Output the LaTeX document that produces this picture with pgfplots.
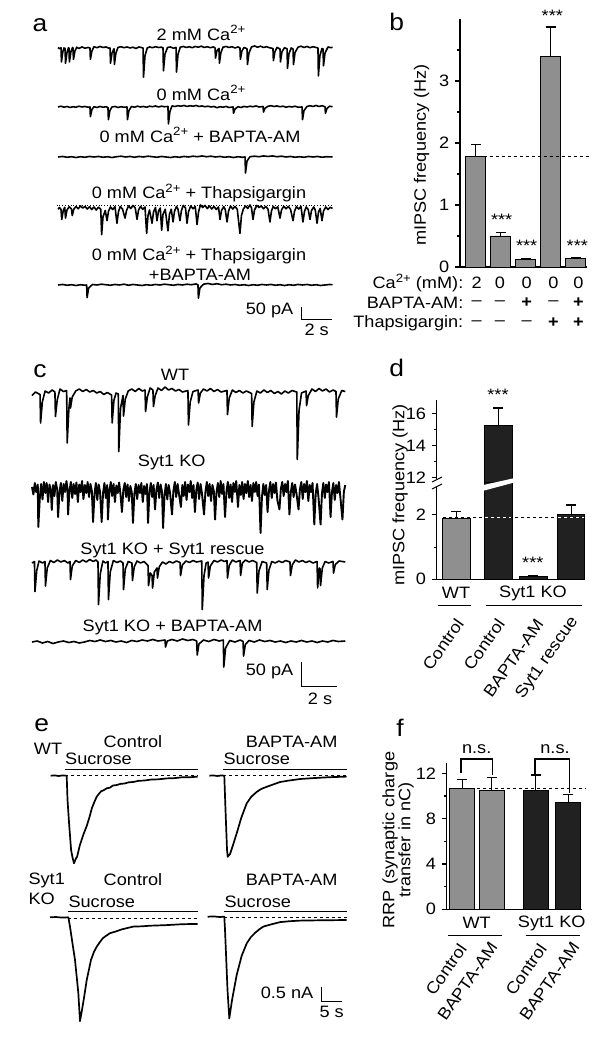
\documentclass[border=0pt]{standalone}
\usepackage{fontspec}
\setmainfont{Liberation Sans}[FakeStretch=1.1]
\usepackage{pgfplots}
\pgfplotsset{compat=1.18}
\definecolor{bargray}{gray}{0.56}
\definecolor{barblack}{gray}{0.13}
\newcommand{\sups}[1]{\raisebox{0.42em}{\fontsize{12}{12}\selectfont #1}}
\pgfplotsset{
 trace/.style={hide axis, scale only axis, anchor=south west, clip=false, xmin=0},
 tr/.style={black, line width=1.6pt, line join=round, mark=none},
 barax/.style={scale only axis, anchor=south west, axis x line*=bottom, axis y line*=left,
   axis line style={line width=1.1pt,-}, xtick=\empty, tick align=outside,
   major tick length=5pt, minor tick length=3pt, tick style={line width=1.1pt,black},
   /pgf/number format/assume math mode=true, clip=false},
 errs/.style={error bars/.cd, y dir=plus, y explicit, error mark=|,
   error bar style={line width=1.2pt,black}, error mark options={mark size=5pt,line width=1.2pt,black}},
}
\begin{document}
\fontsize{16.5}{19}\selectfont
\begin{tikzpicture}
\useasboundingbox (0,0) rectangle (610pt,-1048pt);
% ---------------- panel a ----------------
\node[font=\fontsize{24}{24}\selectfont] at (40pt,-25pt) {a};
\node at (201pt,-33pt) {2 mM Ca\sups{2+}};
\node at (201pt,-93pt) {0 mM Ca\sups{2+}};
\node at (200pt,-135pt) {0 mM Ca\sups{2+} + BAPTA-AM};
\node at (199pt,-193pt) {0 mM Ca\sups{2+} + Thapsigargin};
\node at (199pt,-255pt) {0 mM Ca\sups{2+} + Thapsigargin};
\node at (200pt,-275pt) {+BAPTA-AM};
\begin{axis}[trace, at={(58pt,-81pt)}, x=15pt, y=0.254pt, xmax=18.4, ymin=-130, ymax=30]
\addplot[tr] coordinates {(0,2) (0.1,-3) (0.2,1) (0.23,-55) (0.32,-15) (0.4,0) (0.47,-2) (0.5,-60) (0.6,-18) (0.7,1) (0.73,-1) (0.76,-55) (0.86,-15) (0.97,2) (1.0,0) (1.03,-45) (1.13,-12) (1.25,3) (1.4,-2) (1.6,4) (1.8,-1) (2.0,2) (2.13,0) (2.16,-45) (2.26,-12) (2.4,5) (2.6,1) (2.8,6) (3.0,2) (3.2,4) (3.4,-1) (3.47,0) (3.5,-60) (3.6,-20) (3.73,-3) (3.76,-65) (3.86,-20) (4.0,2) (4.2,5) (4.4,1) (4.6,4) (4.8,0) (5.0,3) (5.2,-2) (5.4,4) (5.6,1) (5.67,0) (5.7,-115) (5.8,-30) (5.95,0) (6.1,4) (6.3,1) (6.5,5) (6.7,2) (6.9,3) (7.0,1) (7.03,-90) (7.13,-25) (7.3,2) (7.5,4) (7.7,-1) (7.87,2) (7.9,-95) (8.0,-25) (8.15,3) (8.35,6) (8.55,2) (8.75,5) (8.95,1) (9.15,6) (9.35,3) (9.55,7) (9.75,2) (9.95,5) (10.15,1) (10.35,4) (10.47,0) (10.5,-40) (10.6,-10) (10.73,-2) (10.76,-60) (10.86,-18) (11.0,3) (11.2,6) (11.4,2) (11.6,5) (11.8,0) (12.0,4) (12.13,0) (12.16,-45) (12.26,-12) (12.4,2) (12.6,-3) (12.63,-65) (12.73,-20) (12.9,4) (13.1,8) (13.3,3) (13.5,7) (13.7,2) (13.9,5) (14.1,1) (14.33,-2) (14.36,-50) (14.46,-15) (14.6,2) (14.8,-4) (14.83,-55) (14.93,-15) (15.1,1) (15.27,-3) (15.3,-80) (15.4,-22) (15.55,0) (15.67,-4) (15.7,-65) (15.8,-18) (16.0,3) (16.2,7) (16.4,2) (16.6,6) (16.8,1) (17.0,5) (17.2,2) (17.33,0) (17.36,-110) (17.46,-30) (17.6,-2) (17.67,-4) (17.7,-70) (17.8,-20) (18.0,4) (18.2,1) (18.3,3)};
\end{axis}
\begin{axis}[trace, at={(58pt,-140pt)}, x=15pt, y=0.254pt, xmax=18.4, ymin=-130, ymax=30]
\addplot[tr] coordinates {(0,0) (0.2,3) (0.4,-1) (0.6,2) (0.8,-2) (1.0,1) (1.2,-1) (1.4,3) (1.6,0) (1.8,2) (2.0,-1) (2.13,0) (2.16,-38) (2.26,-10) (2.4,1) (2.6,-2) (2.8,2) (3.0,-1) (3.2,1) (3.33,-2) (3.36,-50) (3.46,-14) (3.6,0) (3.8,2) (4.0,-2) (4.2,1) (4.4,-1) (4.6,0) (4.63,-50) (4.73,-14) (4.9,2) (5.1,-1) (5.3,3) (5.5,0) (5.7,2) (5.9,-1) (6.1,3) (6.3,1) (6.5,4) (6.7,0) (6.9,3) (7.1,1) (7.33,2) (7.36,-67) (7.46,-18) (7.6,4) (7.8,2) (8.0,5) (8.2,3) (8.4,6) (8.6,2) (8.8,5) (9.0,3) (9.2,6) (9.4,2) (9.6,4) (9.8,1) (10.0,3) (10.2,0) (10.4,2) (10.6,-3) (10.8,1) (11.0,-1) (11.2,2) (11.4,-2) (11.67,0) (11.7,-25) (11.8,-8) (12.0,1) (12.2,-2) (12.4,2) (12.6,0) (12.8,3) (13.0,1) (13.2,4) (13.4,0) (13.67,2) (13.7,-20) (13.8,-5) (14.0,3) (14.2,5) (14.4,2) (14.6,4) (14.8,1) (15.0,3) (15.2,-1) (15.4,2) (15.6,0) (15.8,3) (16.0,-1) (16.27,0) (16.3,-50) (16.4,-14) (16.6,2) (16.8,5) (17.0,2) (17.2,6) (17.4,2) (17.6,5) (17.8,1) (17.83,-25) (17.93,-6) (18.1,3) (18.3,1)};
\end{axis}
\begin{axis}[trace, at={(58pt,-190pt)}, x=15pt, y=0.254pt, xmax=18.4, ymin=-130, ymax=30]
\addplot[tr] coordinates {(0,0) (0.3,2) (0.6,-1) (0.9,1) (1.2,-2) (1.5,1) (1.8,-1) (2.1,2) (2.4,0) (2.7,2) (3.0,-1) (3.3,1) (3.6,-2) (3.9,1) (4.2,3) (4.5,0) (4.8,2) (5.1,-1) (5.4,2) (5.7,0) (6.0,3) (6.3,1) (6.6,-1) (6.9,2) (7.2,0) (7.5,-2) (7.8,1) (8.1,-1) (8.4,2) (8.7,0) (9.0,3) (9.3,1) (9.6,4) (9.9,1) (10.2,3) (10.5,0) (10.8,2) (11.1,-1) (11.4,1) (11.7,-2) (12.0,1) (12.3,-1) (12.47,0) (12.5,-63) (12.6,-16) (12.8,1) (13.1,3) (13.4,1) (13.7,4) (14.0,2) (14.3,4) (14.6,1) (14.9,3) (15.2,0) (15.5,2) (15.8,-1) (16.1,1) (16.4,-1) (16.7,2) (17.0,0) (17.3,2) (17.6,-1) (17.9,1) (18.3,0)};
\end{axis}
\begin{axis}[trace, at={(58pt,-241pt)}, x=15pt, y=0.254pt, xmax=18.4, ymin=-130, ymax=30]
\addplot[black, dotted, line width=0.8pt] coordinates {(-0.1,11) (18.3,11)};
\addplot[tr] coordinates {(0,-5) (0.1,2) (0.2,-6) (0.25,-45) (0.35,-10) (0.45,3) (0.5,-40) (0.6,-8) (0.75,5) (0.9,-4) (0.95,-30) (1.05,-5) (1.2,6) (1.35,-3) (1.5,8) (1.65,0) (1.8,6) (1.95,-4) (2.1,5) (2.25,-6) (2.4,4) (2.55,-8) (2.7,3) (2.85,-5) (2.91,-105) (3.0,-35) (3.15,-10) (3.27,-50) (3.37,-12) (3.5,4) (3.65,-6) (3.8,5) (3.93,-60) (4.03,-15) (4.15,6) (4.3,-4) (4.47,-40) (4.57,-10) (4.7,8) (4.85,-2) (5.0,10) (5.15,0) (5.27,-45) (5.37,-8) (5.5,6) (5.65,-5) (5.8,4) (5.91,-100) (6.0,-30) (6.1,-8) (6.27,-60) (6.37,-15) (6.5,2) (6.6,-50) (6.7,-12) (6.82,0) (6.91,-88) (7.0,-25) (7.15,-5) (7.33,-90) (7.43,-25) (7.55,-5) (7.67,-55) (7.77,-12) (7.9,6) (8.0,-5) (8.13,-50) (8.23,-10) (8.35,10) (8.5,0) (8.6,-60) (8.7,-15) (8.85,8) (9.0,-3) (9.15,6) (9.27,-65) (9.37,-15) (9.5,12) (9.65,2) (9.8,10) (9.95,-2) (10.1,8) (10.25,-4) (10.4,6) (10.55,-6) (10.7,4) (10.8,-45) (10.9,-10) (11.05,5) (11.15,-6) (11.27,-55) (11.37,-12) (11.5,8) (11.65,-4) (11.8,6) (11.95,-5) (12.13,-100) (12.23,-30) (12.35,-5) (12.5,8) (12.65,-2) (12.8,12) (12.9,0) (13.0,-45) (13.1,-8) (13.25,10) (13.4,2) (13.55,8) (13.7,-3) (13.85,6) (14.0,-4) (14.13,-55) (14.23,-12) (14.35,6) (14.5,-3) (14.65,5) (14.8,-40) (14.9,-8) (15.05,7) (15.2,-3) (15.35,6) (15.5,-5) (15.67,-50) (15.77,-12) (15.9,5) (16.05,-4) (16.2,6) (16.33,-55) (16.43,-14) (16.55,4) (16.68,-6) (16.8,-45) (16.9,-10) (17.05,4) (17.15,-8) (17.27,-60) (17.37,-15) (17.48,-2) (17.6,-50) (17.7,-12) (17.85,4) (18.0,-6) (18.15,3) (18.3,-2)};
\end{axis}
\begin{axis}[trace, at={(58pt,-318pt)}, x=15pt, y=0.254pt, xmax=18.4, ymin=-130, ymax=30]
\addplot[tr] coordinates {(0,0) (0.3,2) (0.6,-1) (0.9,1) (1.2,-2) (1.5,1) (1.8,-1) (1.91,0) (1.94,-50) (2.04,-12) (2.3,2) (2.6,0) (2.9,3) (3.2,1) (3.5,-1) (3.8,2) (4.1,0) (4.4,3) (4.7,-1) (5.0,2) (5.3,0) (5.6,-2) (5.9,1) (6.2,-1) (6.5,2) (6.8,0) (7.1,3) (7.4,1) (7.7,-1) (8.0,2) (8.3,0) (8.6,3) (8.9,1) (9.2,4) (9.33,1) (9.36,-52) (9.46,-12) (9.7,3) (10.0,6) (10.3,2) (10.6,5) (10.9,1) (11.2,3) (11.5,0) (11.8,2) (12.1,-1) (12.4,1) (12.7,-2) (13.0,1) (13.3,-1) (13.6,2) (13.9,0) (14.2,2) (14.5,-1) (14.8,1) (15.1,-2) (15.4,1) (15.7,-1) (16.0,2) (16.3,0) (16.6,2) (16.9,-1) (17.2,1) (17.5,-2) (17.8,0) (18.1,2) (18.3,1)};
\end{axis}
\draw[line width=1.1pt] (301.7pt,-306.7pt) -- (301.7pt,-319.3pt) -- (331.7pt,-319.3pt);
\node[anchor=east] at (299pt,-310pt) {50 pA};
\node at (316.7pt,-330pt) {2 s};
% ---------------- panel b ----------------
\node[font=\fontsize{24}{24}\selectfont] at (396.7pt,-22pt) {b};
\begin{axis}[barax, at={(460pt,-267pt)}, x=25pt, y=62pt, xmin=-0.63, xmax=4.45, ymin=0, ymax=4,
  ytick={0,1,2,3}, minor ytick={0.5,1.5,2.5,3.5}]
\addplot[ybar, bar width=20pt, bar shift=0pt, fill=bargray, draw=black, line width=0.9pt, errs]
 table[x=x, y=y, y error=e] {
x y e
0 1.78 0.19
1 0.50 0.05
2 0.12 0.01
3 3.40 0.47
4 0.13 0.025
};
\addplot[black, dashed, line width=1pt] coordinates {(-0.4,1.785) (4.55,1.785)};
\end{axis}
\node[rotate=90] at (421.7pt,-155pt) {mIPSC frequency (Hz)};
\node at (501.7pt,-220pt) {***};
\node at (526.7pt,-246pt) {***};
\node at (552.3pt,-16pt) {***};
\node at (577.3pt,-246pt) {***};
\node[anchor=east] at (469pt,-283pt) {Ca\sups{2+} (mM):};
\node[anchor=east] at (469pt,-303pt) {BAPTA-AM:};
\node[anchor=east] at (469pt,-323pt) {Thapsigargin:};
\node at (476.7pt,-283pt) {2};
\node at (500pt,-283pt) {0};
\node at (526.7pt,-283pt) {0};
\node at (553.3pt,-283pt) {0};
\node at (578.3pt,-283pt) {0};
\node at (476.7pt,-303pt) {--};
\node at (500pt,-303pt) {--};
\node at (526.7pt,-303pt) {\textbf{+}};
\node at (553.3pt,-303pt) {--};
\node at (578.3pt,-303pt) {\textbf{+}};
\node at (476.7pt,-323pt) {--};
\node at (500pt,-323pt) {--};
\node at (526.7pt,-323pt) {--};
\node at (553.3pt,-323pt) {\textbf{+}};
\node at (578.3pt,-323pt) {\textbf{+}};
% ---------------- panel c ----------------
\node[font=\fontsize{24}{24}\selectfont] at (40pt,-371pt) {c};
\node at (175pt,-375pt) {WT};
\node at (171.7pt,-462pt) {Syt1 KO};
\node at (172.5pt,-550pt) {Syt1 KO + Syt1 rescue};
\node at (172.5pt,-627pt) {Syt1 KO + BAPTA-AM};
\begin{axis}[trace, at={(32pt,-468pt)}, x=17.5pt, y=0.5pt, xmax=18, ymin=-150, ymax=30]
\addplot[tr] coordinates {(0,-5) (0.2,2) (0.4,-2) (0.46,-3) (0.49,-60) (0.59,-18) (0.75,4) (0.95,0) (1.15,6) (1.31,2) (1.34,-47) (1.44,-14) (1.6,8) (1.8,3) (1.98,5) (2.01,-100) (2.11,-30) (2.17,-10) (2.2,-30) (2.3,-8) (2.5,4) (2.7,8) (2.9,3) (3.1,7) (3.3,2) (3.5,5) (3.7,0) (3.9,3) (4.1,-3) (4.3,1) (4.55,-4) (4.58,-60) (4.68,-15) (4.8,0) (4.93,-2) (4.96,-117) (5.06,-30) (5.2,-5) (5.23,-46) (5.33,-12) (5.5,4) (5.7,8) (5.9,3) (6.1,9) (6.3,4) (6.46,6) (6.49,-37) (6.59,-8) (6.75,10) (6.91,6) (6.94,-27) (7.04,-5) (7.2,10) (7.4,5) (7.6,12) (7.8,6) (8.0,9) (8.2,4) (8.4,7) (8.6,2) (8.91,5) (8.94,-64) (9.04,-18) (9.2,3) (9.49,6) (9.52,-20) (9.62,0) (9.8,8) (10.0,4) (10.2,9) (10.4,3) (10.6,7) (10.8,2) (11.14,5) (11.17,-43) (11.27,-10) (11.45,6) (11.65,1) (11.85,5) (12.05,0) (12.25,4) (12.55,-1) (12.58,-67) (12.68,-18) (12.85,4) (13.05,0) (13.25,6) (13.45,1) (13.65,5) (13.85,-1) (14.05,3) (14.25,-2) (14.45,4) (14.65,0) (14.85,5) (15.13,2) (15.16,-133) (15.26,-35) (15.4,0) (15.66,4) (15.69,-25) (15.79,-5) (16.0,8) (16.2,3) (16.4,9) (16.6,4) (16.8,8) (17.0,2) (17.2,6) (17.37,3) (17.4,-48) (17.5,-12) (17.7,5) (17.9,3)};
\end{axis}
\begin{axis}[trace, at={(32pt,-562pt)}, x=17.5pt, y=0.5pt, xmax=18, ymin=-150, ymax=30]
\addplot[tr, line width=1.9pt] coordinates {(0,0) (0.08,-15) (0.16,8) (0.24,-10) (0.33,5) (0.36,-80) (0.45,-20) (0.52,6) (0.6,-25) (0.68,10) (0.76,-12) (0.84,8) (0.92,-30) (1.0,5) (1.08,-8) (1.13,-46) (1.2,4) (1.28,-18) (1.36,10) (1.44,-5) (1.49,-60) (1.57,-10) (1.65,8) (1.73,-28) (1.81,6) (1.89,-10) (1.97,12) (2.03,-5) (2.06,-55) (2.14,-8) (2.22,10) (2.3,-22) (2.38,6) (2.46,-14) (2.54,9) (2.62,-30) (2.7,5) (2.78,-10) (2.86,12) (2.94,-24) (3.02,4) (3.1,-12) (3.18,10) (3.26,-20) (3.34,6) (3.42,-8) (3.49,-70) (3.57,-15) (3.65,8) (3.73,-26) (3.81,5) (3.89,-10) (3.98,-70) (4.06,-12) (4.14,8) (4.22,-22) (4.3,4) (4.34,-65) (4.42,-10) (4.5,10) (4.58,-18) (4.66,6) (4.74,-30) (4.82,3) (4.9,-12) (4.98,9) (5.06,-16) (5.14,-50) (5.22,-6) (5.3,8) (5.38,-20) (5.46,5) (5.54,-28) (5.62,2) (5.7,-10) (5.77,-72) (5.85,-14) (5.93,6) (6.01,-24) (6.09,4) (6.17,-12) (6.25,8) (6.33,-30) (6.41,2) (6.49,-14) (6.57,6) (6.63,-72) (6.71,-12) (6.79,8) (6.87,-20) (6.95,4) (7.03,-45) (7.11,-6) (7.19,9) (7.27,-22) (7.35,5) (7.43,-10) (7.49,-82) (7.57,-18) (7.65,6) (7.73,-25) (7.81,4) (7.89,-12) (8.0,-55) (8.08,-8) (8.16,10) (8.24,-20) (8.32,6) (8.4,-14) (8.51,-40) (8.59,4) (8.67,-18) (8.75,10) (8.83,-26) (8.91,5) (8.99,-10) (9.07,12) (9.15,-22) (9.23,4) (9.31,-50) (9.39,-6) (9.47,9) (9.55,-24) (9.63,6) (9.71,-12) (9.83,-55) (9.91,-10) (9.99,10) (10.07,-18) (10.15,6) (10.23,-28) (10.31,4) (10.39,-8) (10.46,-65) (10.54,-12) (10.62,8) (10.7,-20) (10.78,12) (10.86,-14) (10.94,6) (11.03,-60) (11.11,-10) (11.19,10) (11.27,-22) (11.35,5) (11.43,-30) (11.51,8) (11.59,-10) (11.67,12) (11.77,-40) (11.85,4) (11.93,-16) (12.01,10) (12.09,-24) (12.17,6) (12.25,-12) (12.33,12) (12.41,-20) (12.49,4) (12.57,-28) (12.65,8) (12.73,-10) (12.81,10) (12.89,-18) (12.97,5) (13.06,-92) (13.14,-20) (13.22,6) (13.3,-16) (13.38,4) (13.46,-50) (13.54,-8) (13.62,10) (13.7,-22) (13.78,6) (13.86,-12) (13.94,9) (14.02,-26) (14.14,-45) (14.22,-4) (14.3,10) (14.38,-18) (14.46,6) (14.54,-10) (14.62,12) (14.71,-55) (14.79,-10) (14.87,8) (14.95,-20) (15.03,5) (15.11,-12) (15.23,-45) (15.31,-4) (15.39,10) (15.47,-24) (15.55,6) (15.63,-10) (15.71,12) (15.79,-28) (15.87,4) (15.95,-10) (16.03,8) (16.13,-75) (16.21,-14) (16.29,6) (16.37,-20) (16.49,-75) (16.57,-12) (16.65,8) (16.73,-22) (16.81,5) (16.89,-10) (16.97,10) (17.06,-60) (17.14,-10) (17.22,8) (17.3,-26) (17.38,4) (17.46,-12) (17.54,10) (17.62,-20) (17.74,-65) (17.82,-10) (17.9,4)};
\end{axis}
\begin{axis}[trace, at={(32pt,-638pt)}, x=17.5pt, y=0.5pt, xmax=18, ymin=-150, ymax=30]
\addplot[tr] coordinates {(0,0) (0.14,3) (0.17,-57) (0.27,-15) (0.4,4) (0.6,0) (0.74,3) (0.77,-46) (0.87,-10) (1.05,5) (1.25,1) (1.45,6) (1.65,2) (1.85,5) (2.05,0) (2.17,3) (2.2,-33) (2.3,-6) (2.5,5) (2.7,1) (2.9,6) (3.1,2) (3.3,7) (3.5,3) (3.65,6) (3.77,2) (3.8,-83) (3.9,-22) (4.05,4) (4.2,0) (4.34,3) (4.37,-73) (4.47,-18) (4.65,5) (4.85,1) (5.05,4) (5.2,0) (5.23,-53) (5.33,-12) (5.5,3) (5.71,0) (5.74,-35) (5.84,-8) (6.0,4) (6.2,0) (6.4,3) (6.63,-5) (6.66,-45) (6.76,-20) (6.86,-25) (6.89,-50) (6.99,-18) (7.14,-10) (7.17,-30) (7.27,-8) (7.45,2) (7.65,-2) (7.85,3) (8.05,0) (8.25,4) (8.46,1) (8.49,-25) (8.59,-4) (8.8,4) (9.0,1) (9.2,5) (9.4,2) (9.7,4) (9.73,-93) (9.83,-25) (9.95,0) (10.06,2) (10.09,-30) (10.19,-6) (10.4,5) (10.6,2) (10.8,6) (11.0,3) (11.14,5) (11.17,-30) (11.27,-5) (11.45,6) (11.65,2) (11.89,5) (11.92,-25) (12.02,0) (12.2,6) (12.4,2) (12.6,5) (12.84,1) (12.87,-60) (12.97,-16) (13.15,3) (13.41,0) (13.44,-53) (13.54,-14) (13.7,3) (13.9,0) (14.1,4) (14.3,1) (14.5,5) (14.74,2) (14.77,-25) (14.87,-4) (15.05,6) (15.25,2) (15.45,5) (15.65,1) (15.85,4) (16.05,0) (16.29,3) (16.32,-50) (16.42,-10) (16.46,-12) (16.49,-45) (16.59,-10) (16.75,3) (16.95,0) (17.2,3) (17.23,-20) (17.33,-3) (17.55,4) (17.9,2)};
\end{axis}
\begin{axis}[trace, at={(32pt,-717pt)}, x=17.5pt, y=0.5pt, xmax=18, ymin=-150, ymax=30]
\addplot[tr] coordinates {(0,0) (0.3,2) (0.6,-2) (0.9,1) (1.2,-3) (1.5,0) (1.8,2) (2.1,-1) (2.4,1) (2.7,-2) (3.0,0) (3.3,3) (3.6,1) (3.9,4) (4.2,1) (4.5,3) (4.8,0) (5.1,2) (5.4,-1) (5.7,3) (6.0,1) (6.3,4) (6.6,2) (6.9,5) (7.2,2) (7.6,4) (7.63,-10) (7.73,2) (8.0,5) (8.3,2) (8.6,6) (8.9,3) (9.2,5) (9.41,2) (9.44,-26) (9.54,-4) (9.8,4) (10.1,1) (10.4,5) (10.7,2) (10.93,4) (10.96,-50) (11.06,-12) (11.3,3) (11.6,0) (11.9,4) (12.06,1) (12.09,-28) (12.19,-5) (12.4,3) (12.7,0) (13.0,4) (13.3,1) (13.6,3) (13.9,0) (14.2,2) (14.5,-1) (14.8,2) (15.1,0) (15.4,3) (15.7,0) (16.0,2) (16.3,-1) (16.6,2) (16.9,0) (17.2,3) (17.5,1) (17.9,2)};
\end{axis}
\draw[line width=1.1pt] (301.7pt,-661.7pt) -- (301.7pt,-686.7pt) -- (336.7pt,-686.7pt);
\node[anchor=east] at (299pt,-671.7pt) {50 pA};
\node at (320pt,-699pt) {2 s};
% ---------------- panel d ----------------
\node[font=\fontsize{24}{24}\selectfont] at (396.7pt,-368pt) {d};
\begin{axis}[barax, at={(436.7pt,-579.3pt)}, x=35pt, y=32.2pt, xmin=-0.56, xmax=3.68, ymin=0, ymax=3,
  ytick={0,2}, minor ytick={1}, clip=true]
\addplot[ybar, bar width=27.3pt, bar shift=0pt, fill=bargray, draw=black, line width=0.9pt, errs]
 table[x=x, y=y, y error=e] {
x y e
0 1.90 0.20
};
\addplot[ybar, bar width=27.3pt, bar shift=0pt, fill=barblack, draw=black, line width=0.9pt, errs]
 table[x=x, y=y, y error=e] {
x y e
1.2 15.3 0
2.2 0.09 0.03
3.28 2.02 0.29
};
\addplot[black, dashed, line width=1pt] coordinates {(-0.38,1.92) (3.68,1.92)};
\addplot[white, dashed, line width=1pt] coordinates {(0.83,1.92) (1.57,1.92)};
\addplot[white, dashed, line width=1pt] coordinates {(2.91,1.92) (3.65,1.92)};
\end{axis}
\begin{axis}[barax, axis x line=none, at={(436.7pt,-482.7pt)}, x=35pt, y=16pt, xmin=-0.56, xmax=3.68, ymin=11.7, ymax=16.9,
  ytick={12,14,16}, minor ytick={13,15}]
\addplot[ybar, bar width=27.3pt, bar shift=0pt, fill=barblack, draw=black, line width=0.9pt, errs]
 table[x=x, y=y, y error=e] {
x y e
1.2 15.3 1.07
};
\end{axis}
\fill[white] (483.5pt,-485pt) -- (513.5pt,-478.3pt) -- (513.5pt,-482.7pt) -- (483.5pt,-490.7pt) -- cycle;
\fill[white] (434pt,-479pt) rectangle (440pt,-487pt);
\draw[line width=1pt] (432pt,-482pt) -- (442pt,-477pt);
\draw[line width=1pt] (432pt,-489pt) -- (442pt,-484pt);
\node[rotate=90] at (400pt,-495pt) {mIPSC frequency (Hz)};
\node at (498pt,-395pt) {***};
\node at (532.8pt,-563pt) {***};
\node at (456pt,-593pt) {WT};
\node at (533pt,-593pt) {Syt1 KO};
\draw[line width=1pt] (438pt,-605pt) -- (471pt,-605pt);
\draw[line width=1pt] (486pt,-605pt) -- (582pt,-605pt);
\node[rotate=55, anchor=east] at (463pt,-616pt) {Control};
\node[rotate=55, anchor=east] at (504pt,-616pt) {Control};
\node[rotate=55, anchor=east] at (543pt,-616pt) {BAPTA-AM};
\node[rotate=55, anchor=east] at (578pt,-614pt) {Syt1 rescue};
% ---------------- panel e ----------------
\node[font=\fontsize{24}{24}\selectfont] at (41.7pt,-725pt) {e};
\node at (48pt,-749pt) {WT};
\node at (133pt,-742pt) {Control};
\node at (291.7pt,-742pt) {BAPTA-AM};
\node[anchor=west, inner sep=0pt] at (65pt,-759pt) {Sucrose};
\node[anchor=west, inner sep=0pt] at (223.3pt,-759pt) {Sucrose};
\draw[line width=1.1pt] (65pt,-769.3pt) -- (197.7pt,-769.3pt);
\draw[line width=1.1pt] (223.3pt,-769.3pt) -- (346.7pt,-769.3pt);
\node at (46.7pt,-880pt) {Syt1};
\node at (41.7pt,-899pt) {KO};
\node at (133pt,-880pt) {Control};
\node at (291.7pt,-880pt) {BAPTA-AM};
\node[anchor=west, inner sep=0pt] at (68.3pt,-901.7pt) {Sucrose};
\node[anchor=west, inner sep=0pt] at (224.3pt,-901.7pt) {Sucrose};
\draw[line width=1.1pt] (68.3pt,-911.7pt) -- (197.7pt,-911.7pt);
\draw[line width=1.1pt] (224.3pt,-911.7pt) -- (346.7pt,-911.7pt);
\begin{axis}[trace, at={(50.7pt,-883.7pt)}, x=4pt, y=30pt, xmax=37, ymin=-3.6, ymax=0.3]
\addplot[black, dashed, line width=0.9pt] coordinates {(3.6,0.02) (36.75,0.02)};
\addplot[tr, line width=1.7pt] coordinates {(0,0) (1,0.01) (2,-0.01) (3,0.01) (4,0) (4.2,-0.8) (4.6,-1.6) (5.1,-2.48) (5.5,-2.75) (5.83,-2.92) (6.3,-2.76) (6.6,-2.7) (7.3,-2.31) (8.2,-1.95) (9,-1.68) (9.7,-1.38) (10.3,-1.08) (10.9,-0.88) (11.5,-0.70) (12.2,-0.58) (12.6,-0.52) (13.3,-0.48) (14,-0.42) (14.8,-0.40) (15.5,-0.33) (16.5,-0.31) (17.5,-0.27) (18.5,-0.26) (19.5,-0.22) (20.6,-0.21) (22,-0.17) (23.5,-0.16) (25,-0.13) (27,-0.12) (29,-0.09) (31,-0.08) (33,-0.05) (35,-0.05) (36.75,-0.03)};
\end{axis}
\begin{axis}[trace, at={(209.3pt,-883.7pt)}, x=4pt, y=30pt, xmax=37, ymin=-3.6, ymax=0.3]
\addplot[black, dashed, line width=0.9pt] coordinates {(3.5,0.0) (34.35,0.0)};
\addplot[tr, line width=1.7pt] coordinates {(0,0) (1,0.01) (2,-0.01) (3,0.01) (3.75,0) (4.05,-1.14) (4.43,-2.47) (4.6,-2.70) (5.18,-2.61) (5.93,-2.31) (6.85,-1.92) (8,-1.4) (9.35,-0.92) (10.5,-0.70) (11.85,-0.54) (13,-0.44) (14.35,-0.37) (16,-0.29) (17.7,-0.21) (20,-0.16) (22.7,-0.11) (26,-0.08) (30,-0.05) (34.35,-0.03)};
\end{axis}
\begin{axis}[trace, at={(50pt,-1025.3pt)}, x=4pt, y=30pt, xmax=37, ymin=-3.6, ymax=0.3]
\addplot[black, dashed, line width=0.9pt] coordinates {(4.58,-0.03) (36.9,-0.03)};
\addplot[tr, line width=1.7pt] coordinates {(0,0) (1.5,0.01) (3,-0.01) (4.58,0) (5.0,-0.31) (5.6,-0.85) (6.25,-1.42) (7.08,-2.52) (7.5,-3.46) (8.0,-3.09) (8.6,-2.6) (9.18,-2.09) (10.25,-1.42) (11,-1.15) (11.68,-0.98) (12.5,-0.82) (13.25,-0.69) (14,-0.62) (15,-0.53) (16.5,-0.47) (18,-0.40) (20.8,-0.31) (23,-0.30) (25,-0.28) (29.2,-0.26) (33,-0.23) (36.9,-0.22)};
\end{axis}
\begin{axis}[trace, at={(207.7pt,-1024.7pt)}, x=4pt, y=30pt, xmax=37, ymin=-3.6, ymax=0.3]
\addplot[black, dashed, line width=0.9pt] coordinates {(4.15,-0.04) (34.75,-0.04)};
\addplot[tr, line width=1.7pt] coordinates {(0,0) (1.5,0.01) (3,-0.01) (4.15,0) (4.33,-0.44) (4.95,-2.44) (5.4,-3.39) (6.08,-2.78) (7.25,-1.94) (8.5,-1.3) (9.75,-0.89) (10.8,-0.68) (11.83,-0.54) (12.9,-0.42) (13.9,-0.33) (16,-0.25) (18.1,-0.18) (20.5,-0.15) (23.1,-0.13) (28,-0.12) (34.75,-0.11)};
\end{axis}
\draw[line width=1.1pt] (321.7pt,-986.7pt) -- (321.7pt,-1001.7pt) -- (341.7pt,-1001.7pt);
\node[anchor=east] at (319pt,-993.3pt) {0.5 nA};
\node at (331.7pt,-1011.7pt) {5 s};
% ---------------- panel f ----------------
\node[font=\fontsize{24}{24}\selectfont] at (400pt,-728pt) {f};
\begin{axis}[barax, at={(446.7pt,-909.3pt)}, x=32pt, y=11.33pt, xmin=-0.49, xmax=3.74, ymin=0, ymax=12.9,
  ytick={0,4,8,12}, minor ytick={2,6,10}]
\addplot[ybar, bar width=25pt, bar shift=0pt, fill=bargray, draw=black, line width=0.9pt, errs]
 table[x=x, y=y, y error=e] {
x y e
0 10.68 0.79
0.92 10.53 1.09
};
\addplot[ybar, bar width=25pt, bar shift=0pt, fill=barblack, draw=black, line width=0.9pt, errs]
 table[x=x, y=y, y error=e] {
x y e
2.29 10.47 1.38
3.31 9.41 0.74
};
\addplot[black, dashed, line width=1pt] coordinates {(0.45,10.68) (3.85,10.68)};
\end{axis}
\draw[line width=1.1pt] (461pt,-773pt) -- (461pt,-759pt) -- (492.7pt,-759pt) -- (492.7pt,-775pt);
\draw[line width=1.1pt] (535pt,-774pt) -- (535pt,-759pt) -- (569.3pt,-759pt) -- (569.3pt,-792.7pt);
\node at (476.7pt,-749pt) {n.s.};
\node at (555pt,-749pt) {n.s.};
\node[rotate=90, align=center] at (398pt,-840pt) {RRP (synaptic charge\\[-3pt]transfer in nC)};
\node at (476.7pt,-923pt) {WT};
\node at (551.7pt,-923pt) {Syt1 KO};
\draw[line width=1pt] (448pt,-935pt) -- (501.7pt,-935pt);
\draw[line width=1pt] (525.7pt,-935pt) -- (580pt,-935pt);
\node[rotate=55, anchor=east] at (466pt,-941pt) {Control};
\node[rotate=55, anchor=east] at (497pt,-939pt) {BAPTA-AM};
\node[rotate=55, anchor=east] at (546pt,-941pt) {Control};
\node[rotate=55, anchor=east] at (579pt,-939pt) {BAPTA-AM};
\end{tikzpicture}
\end{document}
